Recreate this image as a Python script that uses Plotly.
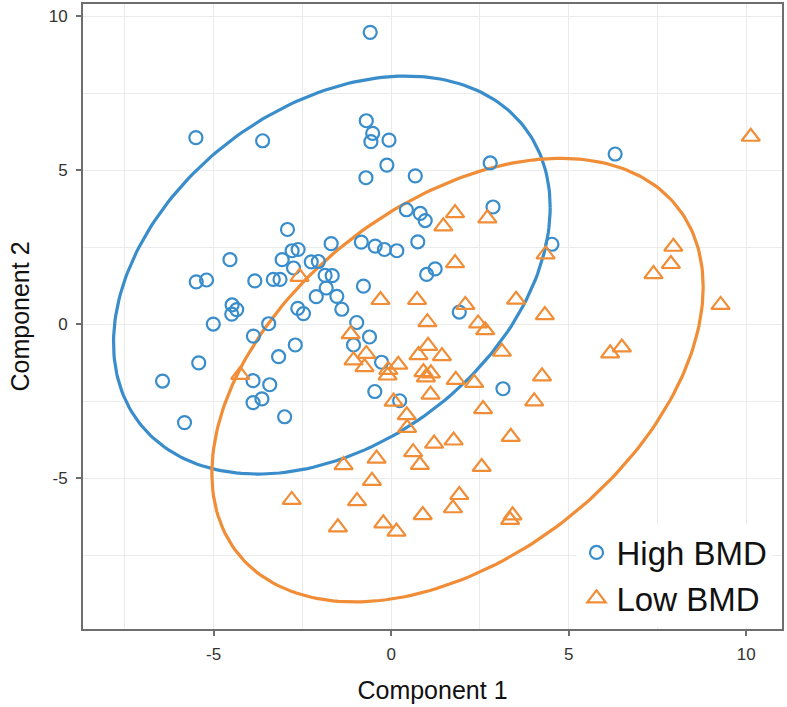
import numpy as np
import plotly.graph_objects as go

# ---- data ----
high_x = [-0.59, -0.70, -0.52, -0.57, -0.06, -5.50, -3.62, -0.12, -0.71, 0.68,
          2.79, 6.31, 0.43, 0.82, 0.96, 2.87, -2.92, -0.84, -0.45, -0.19,
          0.16, 0.75, -1.69, 4.53, -2.79, -2.62, -4.54, -3.07, -2.25, -2.05,
          -2.75, -1.86, -1.66, 1.00, 1.24, -5.49, -5.20, -3.84, -3.32, -3.13,
          -0.78, -1.83, -2.11, -1.53, -1.39, -2.63, -2.47, -4.48, -4.35, -4.49,
          -5.01, -3.45, -0.97, 1.92, -3.88, -0.61, -2.70, -1.06, -3.17, -5.42,
          -0.27, -6.44, -3.89, -3.42, -0.46, 3.15, -3.89, -3.64, 0.24, -3.00,
          -5.82]
high_y = [9.47, 6.60, 6.19, 5.92, 5.97, 6.05, 5.95, 5.16, 4.75, 4.81,
          5.23, 5.52, 3.71, 3.59, 3.36, 3.80, 3.07, 2.66, 2.53, 2.42,
          2.38, 2.67, 2.61, 2.59, 2.38, 2.42, 2.09, 2.09, 2.02, 2.03,
          1.82, 1.58, 1.57, 1.61, 1.79, 1.37, 1.43, 1.40, 1.45, 1.45,
          1.23, 1.17, 0.89, 0.90, 0.48, 0.51, 0.34, 0.62, 0.47, 0.32,
          0.00, 0.01, 0.05, 0.39, -0.39, -0.42, -0.68, -0.68, -1.06, -1.26,
          -1.24, -1.85, -1.84, -1.97, -2.19, -2.10, -2.55, -2.43, -2.49, -3.01,
          -3.20]

low_x = [10.13, 1.80, 1.47, 2.71, 7.95, 7.88, 7.39, 4.35, 1.80, -2.58,
         -0.30, 0.73, 2.09, 3.52, 9.28, 1.02, 4.33, 2.45, 2.65, -1.14,
         3.12, 1.04, 0.77, 1.43, 6.17, 6.50, -0.70, -1.06, -0.75, 0.20,
         -0.08, -0.10, 0.91, 1.12, 0.98, 1.82, 2.34, 4.25, -4.25, 1.11,
         0.07, 4.03, 2.59, 0.44, 0.45, 3.37, 1.21, 1.76, 0.62, 0.81,
         -1.34, -0.41, 2.55, -0.54, -2.80, -0.96, 1.92, 1.74, 0.89, -1.50,
         -0.22, 0.15, 3.42, 3.35]
low_y = [6.08, 3.60, 3.17, 3.43, 2.51, 1.95, 1.62, 2.26, 1.98, 1.53,
         0.78, 0.78, 0.62, 0.79, 0.62, 0.06, 0.29, 0.02, -0.20, -0.33,
         -0.90, -0.71, -1.01, -1.04, -0.95, -0.76, -0.97, -1.18, -1.40, -1.32,
         -1.49, -1.67, -1.56, -1.60, -1.73, -1.81, -1.91, -1.70, -1.65, -2.29,
         -2.52, -2.51, -2.76, -2.96, -3.37, -3.66, -3.88, -3.78, -4.16, -4.57,
         -4.58, -4.37, -4.64, -5.09, -5.71, -5.75, -5.55, -5.98, -6.20, -6.60,
         -6.47, -6.74, -6.21, -6.36]

# ellipse parameters: center, half-extent in x / y, correlation
high_ellipse = dict(cx=-1.67, cy=1.59, sx=6.15, sy=6.46, r=0.34)
low_ellipse = dict(cx=1.87, cy=-1.82, sx=6.92, sy=7.20, r=0.42)

x_ticks = [-5, 0, 5, 10]
y_ticks = [-5, 0, 5, 10]

BLUE = "#3A8DCB"
ORANGE = "#F08D36"
FONT = "Liberation Sans, Arial, sans-serif"


def ellipse(p, n=240):
    t = np.linspace(0, 2 * np.pi, n)
    x = p["cx"] + p["sx"] * np.cos(t)
    y = p["cy"] + p["sy"] * (p["r"] * np.cos(t) + np.sqrt(1 - p["r"] ** 2) * np.sin(t))
    return x, y


fig = go.Figure()

ex, ey = ellipse(high_ellipse)
fig.add_trace(go.Scatter(x=ex, y=ey, mode="lines", line=dict(color=BLUE, width=3.2),
                         showlegend=False, hoverinfo="skip"))
ex, ey = ellipse(low_ellipse)
fig.add_trace(go.Scatter(x=ex, y=ey, mode="lines", line=dict(color=ORANGE, width=3.2),
                         showlegend=False, hoverinfo="skip"))

fig.add_trace(go.Scatter(x=high_x, y=high_y, mode="markers", name="High BMD",
                         marker=dict(symbol="circle-open", size=13, color=BLUE,
                                     line=dict(width=2.2, color=BLUE))))
fig.add_trace(go.Scatter(x=low_x, y=low_y, mode="markers", name="Low BMD",
                         marker=dict(symbol="triangle-up-open", size=16, color=ORANGE,
                                     line=dict(width=2.2, color=ORANGE))))

axis_common = dict(
    showgrid=True, gridcolor="#EBEBEB", gridwidth=1,
    zeroline=False, automargin=False,
    showline=True, linecolor="#6E6E6E", linewidth=2, mirror=True,
    ticks="outside", ticklen=5, tickwidth=1.5, tickcolor="#6E6E6E",
    tickfont=dict(family=FONT, size=17, color="#333333"),
    minor=dict(dtick=2.5, showgrid=True, gridcolor="#EBEBEB", gridwidth=1, ticks=""),
)

fig.update_xaxes(range=[-8.68, 11.01], tickvals=x_ticks, ticktext=[str(v) for v in x_ticks],
                 ticklabelstandoff=4,
                 title=dict(text="Component 1", standoff=18,
                            font=dict(family=FONT, size=25, color="#111111")),
                 **axis_common)
fig.update_yaxes(range=[-9.90, 10.39], tickvals=y_ticks, ticktext=[str(v) for v in y_ticks],
                 ticklabelstandoff=5,
                 title=dict(text="Component 2", standoff=12,
                            font=dict(family=FONT, size=25, color="#111111")),
                 **axis_common)

fig.update_layout(
    width=787, height=707,
    margin=dict(l=83, r=5, t=4, b=78),
    paper_bgcolor="white", plot_bgcolor="white",
    font=dict(family=FONT),
    legend=dict(x=0.706, y=0.004, xanchor="left", yanchor="bottom",
                bgcolor="white", borderwidth=0,
                font=dict(size=33, color="#111111"),
                itemsizing="trace", tracegroupgap=0),
)

fig.write_html("out.html", config={"displayModeBar": False},
               post_script="document.body.style.margin='0';document.body.style.padding='0';")
